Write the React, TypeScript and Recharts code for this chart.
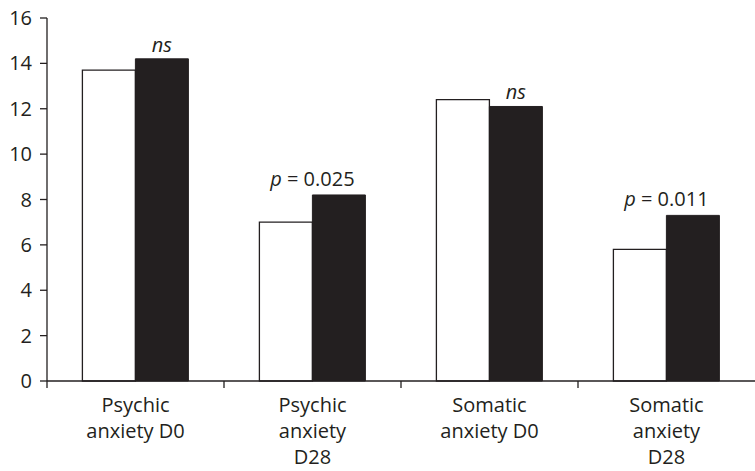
import React from "react";
import { BarChart, Bar, XAxis, YAxis, LabelList } from "recharts";

const categories = ["Psychic|anxiety D0", "Psychic|anxiety|D28", "Somatic|anxiety D0", "Somatic|anxiety|D28"];
const seriesWhite = [13.7, 7.0, 12.4, 5.8];
const seriesBlack = [14.2, 8.2, 12.1, 7.3];
const annotations = ["ns", "p = 0.025", "ns", "p = 0.011"];
const yTicks = [0, 2, 4, 6, 8, 10, 12, 14, 16];

const data = categories.map((c, i) => ({
  name: c,
  white: seriesWhite[i],
  black: seriesBlack[i],
  note: annotations[i],
}));

const INK = "#231f20";
const FONT = "'Open Sans', sans-serif";
const FS = 20;
const W = 755;
const H = 471;
const LEFT = 47;
const BAND = (W - LEFT) / categories.length;

const XTick = (props: any) => {
  const { x, y, payload } = props;
  const lines = String(payload.value).split("|");
  return (
    <g>
      <line x1={x - BAND / 2} x2={x - BAND / 2} y1={y} y2={y + 7} stroke={INK} strokeWidth={1.3} />
      <text x={x} y={y} textAnchor="middle" fill={INK} fontSize={FS} fontFamily={FONT}>
        {lines.map((l, i) => (
          <tspan key={i} x={x} dy={i === 0 ? 31 : 26}>
            {l}
          </tspan>
        ))}
      </text>
    </g>
  );
};

const NoteLabel = (props: any) => {
  const { x, y, width, index } = props;
  const note = annotations[index];
  if (note === "ns") {
    return (
      <text x={x + width / 2} y={y - 7} textAnchor="middle" fill={INK} fontSize={FS} fontFamily={FONT} fontStyle="italic">
        ns
      </text>
    );
  }
  const rest = note.slice(1);
  return (
    <text x={x} y={y - 9} textAnchor="middle" fill={INK} fontSize={FS} fontFamily={FONT}>
      <tspan fontStyle="italic">p</tspan>
      <tspan>{rest}</tspan>
    </text>
  );
};

export default function App() {
  return (
    <div style={{ position: "absolute", left: 0, top: 0, width: W, height: H, background: "#fff" }}>
      <BarChart
        width={W}
        height={H}
        data={data}
        margin={{ top: 18, right: 0, bottom: 0, left: 0 }}
        barCategoryGap="20%"
        barGap={0}
      >
        <YAxis
          domain={[0, 16]}
          ticks={yTicks}
          width={LEFT}
          axisLine={{ stroke: INK, strokeWidth: 1.3 }}
          tickLine={{ stroke: INK, strokeWidth: 1.3 }}
          tickSize={7}
          tickMargin={8}
          tick={{ fill: INK, fontSize: FS, fontFamily: FONT }}
          interval={0}
        />
        <XAxis
          dataKey="name"
          axisLine={{ stroke: INK, strokeWidth: 1.3 }}
          tickLine={false}
          tickSize={0}
          tickMargin={0}
          tick={<XTick />}
          interval={0}
          height={90}
        />
        <Bar dataKey="white" fill="#ffffff" stroke={INK} strokeWidth={1.3} isAnimationActive={false} />
        <Bar dataKey="black" fill={INK} stroke={INK} strokeWidth={1} isAnimationActive={false}>
          <LabelList dataKey="note" content={<NoteLabel />} />
        </Bar>
      </BarChart>
    </div>
  );
}
